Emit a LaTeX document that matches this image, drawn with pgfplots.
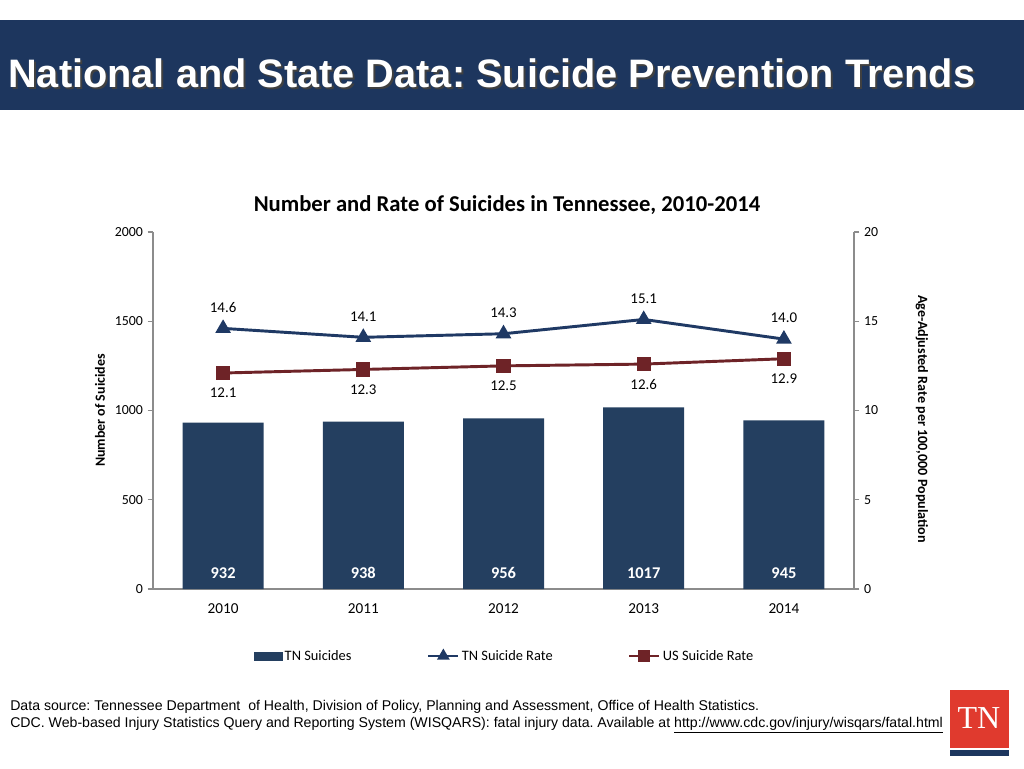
\documentclass[border=0pt]{standalone}
\usepackage{pgfplots}
\pgfplotsset{compat=1.18}
\usepackage{fontspec}
\setmainfont{Carlito}
\newfontfamily\arial{Liberation Sans}
\newfontfamily\tnserif{Liberation Serif}
\frenchspacing
\definecolor{hdr}{RGB}{29,54,94}
\definecolor{barcol}{RGB}{36,63,96}
\definecolor{tnline}{RGB}{31,57,100}
\definecolor{usline}{RGB}{110,35,39}
\definecolor{axgrey}{RGB}{140,140,140}
\definecolor{tnred}{RGB}{224,58,46}
\pgfplotsset{
  linelegend/.style={legend image code/.code={\draw[mark repeat=2,mark phase=2,##1,mark size=3.4pt] plot coordinates {(0pt,0pt) (11.25pt,0pt) (22.5pt,0pt)};}},
  barlegend/.style={legend image code/.code={\fill[barcol] (0pt,-3pt) rectangle (21pt,3pt);}},
}
\begin{document}
\begin{tikzpicture}[x=0.75pt,y=0.75pt]
\path[use as bounding box] (0,0) rectangle (1024,768);
\fill[white] (0,0) rectangle (1024,768);
% header band
\fill[hdr] (0,658) rectangle (1024,748);
\node[anchor=base west, inner sep=0pt, text=black!75, font=\arial\bfseries\fontsize{29.8}{32}\selectfont] at (10,678) {National and State Data: Suicide Prevention Trends};
\node[anchor=base west, inner sep=0pt, text=white, font=\arial\bfseries\fontsize{29.8}{32}\selectfont] at (8,680) {National and State Data: Suicide Prevention Trends};
% footer
\node[anchor=base west, inner sep=0pt, font=\arial\fontsize{10.6}{12}\selectfont] at (10,58) {Data source: Tennessee Department\ \ of Health, Division of Policy, Planning and Assessment, Office of Health Statistics.};
\node[anchor=base west, inner sep=0pt, font=\arial\fontsize{10.6}{12}\selectfont] at (10,41) {CDC. Web-based Injury Statistics Query and Reporting System (WISQARS): fatal injury data. Available at \underline{http://www.cdc.gov/injury/wisqars/fatal.html}};
% logo
\fill[tnred] (950,20) rectangle (1009,78);
\fill[hdr] (950,12) rectangle (1009,18);
\node[text=white, font=\tnserif\fontsize{24}{26}\selectfont, inner sep=0pt] at (979,50) {TN};

\begin{axis}[
  at={(114.75pt,134.25pt)}, anchor=south west,
  width=525.75pt, height=267.75pt, scale only axis,
  xmin=-0.5, xmax=4.5, ymin=0, ymax=2000,
  axis y line*=left, axis x line*=bottom,
  axis line style={axgrey, line width=0.8pt, -},
  xtick={0,1,2,3,4}, xticklabels={2010,2011,2012,2013,2014},
  x tick style={draw=none},
  ytick={0,500,1000,1500,2000},
  y tick style={axgrey, line width=0.8pt},
  tick align=outside, major tick length=4pt,
  yticklabel style={font=\fontsize{10.4}{12}\selectfont},
  xticklabel style={yshift=-3.5pt, font=\fontsize{11.4}{13}\selectfont},
  /pgf/number format/assume math mode=true,
  /pgf/number format/1000 sep={},
  ylabel={Number of Suicides},
  every axis y label/.style={at={(axis description cs:-0.0756,0.5)}, rotate=90, anchor=center, font=\bfseries\fontsize{10.5}{12}\selectfont},
  title={Number and Rate of Suicides in Tennessee, 2010-2014},
  every axis title/.style={at={(axis description cs:0.505,1.0756)}, anchor=center, font=\bfseries\fontsize{17}{19}\selectfont},
  clip=false,
]
\addplot[ybar, bar width=60.75pt, fill=barcol, draw=none] coordinates {(0,932) (1,938) (2,956) (3,1017) (4,945)};
\addplot[draw=none, mark=none, nodes near coords, point meta=explicit symbolic,
  every node near coord/.style={anchor=center, yshift=12pt, text=white, font=\bfseries\fontsize{12.3}{14}\selectfont}]
  coordinates {(0,0) [932] (1,0) [938] (2,0) [956] (3,0) [1017] (4,0) [945]};
\end{axis}

\begin{axis}[
  at={(114.75pt,134.25pt)}, anchor=south west,
  width=525.75pt, height=267.75pt, scale only axis,
  xmin=-0.5, xmax=4.5, ymin=0, ymax=20,
  axis y line*=right, axis x line=none,
  axis line style={axgrey, line width=0.8pt, -},
  ytick={0,5,10,15,20},
  y tick style={axgrey, line width=0.8pt},
  tick align=outside, major tick length=4pt,
  yticklabel style={font=\fontsize{10.4}{12}\selectfont},
  /pgf/number format/assume math mode=true,
  ylabel={Age-Adjusted Rate per 100,000 Population},
  every axis y label/.style={at={(axis description cs:1.097,0.476)}, rotate=-90, anchor=center, font=\bfseries\fontsize{10.6}{12}\selectfont},
  clip=false,
  legend columns=3,
  legend style={at={(axis description cs:0.144,-0.1877)}, anchor=west, draw=none, fill=none,
    font=\fontsize{10.8}{12}\selectfont, inner sep=0pt,
    /tikz/every even column/.append style={column sep=55pt},
    nodes={inner sep=1.5pt}},
]
\addlegendimage{barlegend}
\addlegendentry{TN Suicides}
\addplot[tnline, line width=2.2pt, mark=triangle*, mark size=4.6pt, mark options={solid, fill=tnline},
  nodes near coords={\pgfmathprintnumber[fixed,fixed zerofill,precision=1]{\pgfplotspointmeta}},
  every node near coord/.style={anchor=center, yshift=15.75pt, text=black, font=\fontsize{11.2}{13}\selectfont},
  linelegend]
  coordinates {(0,14.6) (1,14.1) (2,14.3) (3,15.1) (4,14.0)};
\addlegendentry{TN Suicide Rate}
\addplot[usline, line width=2.2pt, mark=square*, mark size=4.2pt, mark options={solid, fill=usline},
  nodes near coords={\pgfmathprintnumber[fixed,fixed zerofill,precision=1]{\pgfplotspointmeta}},
  every node near coord/.style={anchor=center, yshift=-15pt, text=black, font=\fontsize{11.2}{13}\selectfont},
  linelegend]
  coordinates {(0,12.1) (1,12.3) (2,12.5) (3,12.6) (4,12.9)};
\addlegendentry{US Suicide Rate}
\end{axis}
\end{tikzpicture}
\end{document}
